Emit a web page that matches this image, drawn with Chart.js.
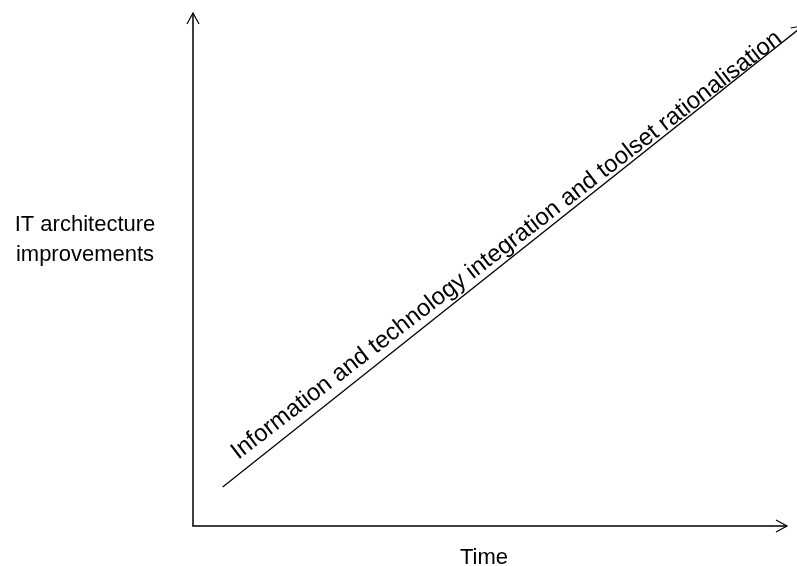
<!DOCTYPE html>
<html>
<head>
<meta charset="utf-8">
<script src="https://cdn.jsdelivr.net/npm/chart.js@4/dist/chart.umd.min.js"></script>
<style>
  html, body { margin: 0; padding: 0; background: #fff; }
  canvas { display: block; }
</style>
</head>
<body>
<canvas id="trendChart" width="797" height="566"></canvas>
<script>
// дані діаграми (умовна шкала 0..1)
const timeValues = [0.05, 1.027];
const improvementValues = [0.076, 0.975];
const trendLabel = 'Information and technology integration and toolset rationalisation';
const xAxisLabel = 'Time';
const yAxisLabel = ['IT architecture', 'improvements'];

const FONT = '"Liberation Sans", Arial, sans-serif';

function drawArrowHead(ctx, tipX, tipY, angle, len, half) {
    const ux = Math.cos(angle), uy = Math.sin(angle);
    ctx.beginPath();
    ctx.moveTo(tipX - ux * len - uy * half, tipY - uy * len + ux * half);
    ctx.lineTo(tipX, tipY);
    ctx.lineTo(tipX - ux * len + uy * half, tipY - uy * len - ux * half);
    ctx.stroke();
}

// малюємо осі, стрілки та підписи
const conceptPlugin = {
    id: 'conceptPlugin',
    afterDraw(chart) {
        const ctx = chart.ctx;
        const area = chart.chartArea;
        const xs = chart.scales.x, ys = chart.scales.y;
        ctx.save();
        ctx.strokeStyle = '#000';
        ctx.lineWidth = 1.5;
        ctx.lineCap = 'butt';

        // осі
        ctx.beginPath();
        ctx.moveTo(area.left, area.top);
        ctx.lineTo(area.left, area.bottom);
        ctx.lineTo(area.right, area.bottom);
        ctx.stroke();
        ctx.lineWidth = 1.2;
        drawArrowHead(ctx, area.left, area.top, -Math.PI / 2, 11, 6);
        drawArrowHead(ctx, area.right, area.bottom, 0, 11, 6);

        // стрілка на лінії тренду
        const x0 = xs.getPixelForValue(timeValues[0]);
        const y0 = ys.getPixelForValue(improvementValues[0]);
        const x1 = xs.getPixelForValue(timeValues[timeValues.length - 1]);
        const y1 = ys.getPixelForValue(improvementValues[improvementValues.length - 1]);
        const ang = Math.atan2(y1 - y0, x1 - x0);
        ctx.lineWidth = 1;
        drawArrowHead(ctx, x1, y1, ang, 11, 6);

        // текст уздовж лінії (трохи положистіший за саму лінію)
        ctx.fillStyle = '#000';
        ctx.font = '24px ' + FONT;
        ctx.textAlign = 'left';
        ctx.textBaseline = 'alphabetic';
        const ux = Math.cos(ang), uy = Math.sin(ang);
        const along = 29, offset = 11.5;
        const tx = x0 + ux * along + uy * offset;
        const ty = y0 + uy * along - ux * offset;
        ctx.translate(tx, ty);
        ctx.rotate(ang + 0.016);
        ctx.fillText(trendLabel, 0, 0);
        ctx.setTransform(1, 0, 0, 1, 0, 0);

        // підписи осей
        ctx.font = '22px ' + FONT;
        ctx.textAlign = 'center';
        ctx.fillText(yAxisLabel[0], 85, 231);
        ctx.fillText(yAxisLabel[1], 85, 261);
        ctx.fillText(xAxisLabel, 484, 564);
        ctx.restore();
    }
};

document.addEventListener('DOMContentLoaded', function() {
    const ctx = document.getElementById('trendChart').getContext('2d');
    new Chart(ctx, {
        type: 'line',
        data: {
            datasets: [{
                label: trendLabel,
                data: timeValues.map((t, i) => ({ x: t, y: improvementValues[i] })),
                borderColor: '#000',
                borderWidth: 1.2,
                pointRadius: 0,
                fill: false,
                tension: 0,
                clip: false
            }]
        },
        options: {
            responsive: false,
            animation: false,
            devicePixelRatio: 1,
            layout: { padding: { left: 193, top: 13, right: 10, bottom: 40 } },
            plugins: {
                legend: { display: false },
                tooltip: { enabled: false }
            },
            scales: {
                x: { type: 'linear', min: 0, max: 1, display: false },
                y: { type: 'linear', min: 0, max: 1, display: false }
            }
        },
        plugins: [conceptPlugin]
    });
});
</script>
</body>
</html>
